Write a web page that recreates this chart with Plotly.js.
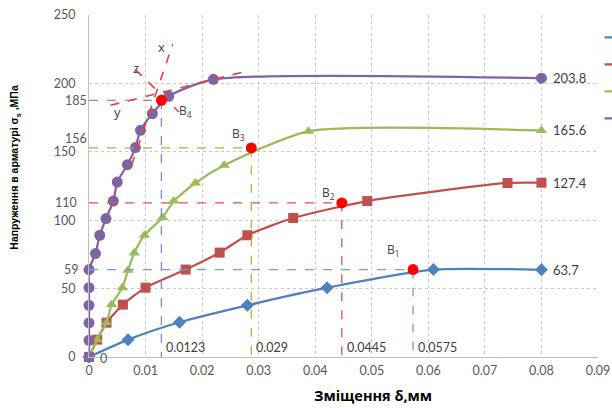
<!DOCTYPE html>
<html><head><meta charset="utf-8">
<script src="https://cdn.plot.ly/plotly-3.0.1.min.js"></script>
<style>html,body{margin:0;padding:0;background:#fff;overflow:hidden}#c{width:612px;height:408px}</style>
</head><body><div id="c"></div>
<script>
// ---- data ----
const seriesNames = ["Серія 1", "Серія 2", "Серія 3", "Серія 4"];
const blueX = [0, 0.0069, 0.016, 0.028, 0.0421, 0.0609, 0.08];
const blueY = [0, 12.7, 25.4, 37.8, 50.7, 63.9, 63.7];
const redX = [0, 0.00145, 0.0031, 0.006, 0.01, 0.0171, 0.0231, 0.028, 0.0361, 0.0492, 0.074, 0.08];
const redY = [0, 12.7, 25.1, 38.3, 50.7, 63.9, 76.3, 89, 101.6, 114, 127.2, 127.4];
const greenX = [0, 0.00145, 0.0031, 0.004, 0.0059, 0.0069, 0.008, 0.0098, 0.013, 0.015, 0.0188, 0.0239, 0.0388, 0.08];
const greenY = [0, 12.7, 25.1, 38.3, 50.7, 63.4, 76, 89, 101.9, 114, 127.2, 140.1, 165, 165.6];
const purpleX = [0, 0, 0, 0, 0, 0, 0.00115, 0.0019, 0.003, 0.0043, 0.005, 0.0068, 0.0082, 0.0091, 0.0112, 0.0141, 0.022, 0.08];
const purpleY = [0, 12.2, 24.9, 37.8, 50.7, 63.9, 75.6, 89, 101.2, 114, 127.9, 140.6, 153.1, 165.7, 177.9, 190.6, 203, 203.8];

// characteristic points B1..B4
const bNames = ["В<sub>1</sub>", "В<sub>2</sub>", "В<sub>3</sub>", "В<sub>4</sub>"];
const bX = [0.0573, 0.0447, 0.0287, 0.0128];
const bY = [63.9, 112.6, 152.8, 187.6];
const bXText = ["0.0575", "0.0445", "0.029", "0.0123"];
const bYText = ["59", "110", "156", "185"];
const bLabelX = [0.0538, 0.0424, 0.0265, 0.0171];
const bLabelY = [78, 120, 163, 180];

// tangent construction lines near B4
const tanXx = [0.0075, 0.0148], tanXy = [140, 228.6];
const tanZx = [0.0082, 0.0159], tanZy = [210.1, 179.1];
const tanYx = [0.0038, 0.028],  tanYy = [184, 209.1];
const tanLabels = ["x", "z", "y"];
const tanLabelX = [0.0128, 0.0083, 0.005];
const tanLabelY = [226.6, 211, 179.1];

// end value labels
const endVals = [63.7, 127.4, 165.6, 203.8];

const xTickVals = [0, 0.01, 0.02, 0.03, 0.04, 0.05, 0.06, 0.07, 0.08, 0.09];
const xTickText = ["0", "0.01", "0.02", "0.03", "0.04", "0.05", "0.06", "0.07", "0.08", "0.09"];
const yTickVals = [0, 50, 100, 150, 200, 250];
const yTickText = ["0", "50", "100", "150", "200", "250"];

// ---- styling ----
const colors = ["#4F81BD", "#C0504D", "#9BBB59", "#8064A2"];
const guideColors = ["#6E9FD8", "#D9534F", "#A9B83E", "#8585D0"];
const symbols = ["diamond", "square", "triangle-up", "circle"];
const sizes = [10, 10, 10, 11];
const xs = [blueX, redX, greenX, purpleX];
const ys = [blueY, redY, greenY, purpleY];

const traces = [];
for (let i = 0; i < 4; i++) {
  traces.push({
    x: xs[i], y: ys[i], name: seriesNames[i], type: "scatter", mode: "lines+markers",
    line: {color: colors[i], width: 2.25, shape: "spline", smoothing: 0.6},
    marker: {symbol: symbols[i], size: sizes[i], color: colors[i]},
    cliponaxis: false
  });
}
// dashed guide lines
for (let i = 0; i < 4; i++) {
  traces.push({
    x: [0, bX[i], bX[i]], y: [bY[i], bY[i], 0], type: "scatter", mode: "lines",
    line: {color: guideColors[i], width: 1.3, dash: "dash"}, showlegend: false, hoverinfo: "skip"
  });
}
// tangent lines
[[tanXx, tanXy], [tanZx, tanZy], [tanYx, tanYy]].forEach(p => {
  traces.push({x: p[0], y: p[1], type: "scatter", mode: "lines",
    line: {color: "#F03C3C", width: 1.6, dash: "dash"}, showlegend: false, hoverinfo: "skip", cliponaxis: false});
});
// B points
traces.push({x: bX, y: bY, type: "scatter", mode: "markers",
  marker: {color: "#FF0000", size: 11, symbol: "circle"}, showlegend: false, cliponaxis: false});

const tickFont = {family: "Lato, 'Liberation Sans', sans-serif", size: 12.5, color: "#595959"};
const ann = [];
const lblFont = {family: "'Open Sans', 'Noto Sans', sans-serif", size: 12, color: "#404040"};
for (let i = 0; i < 4; i++) {
  ann.push({x: bLabelX[i], y: bLabelY[i], xref: "x", yref: "y", text: bNames[i], showarrow: false, font: lblFont});
  ann.push({x: bX[i], y: 6.7, xref: "x", yref: "y", text: bXText[i], showarrow: false, xanchor: "left", xshift: 3,
    font: {family: tickFont.family, size: 12.5, color: "#404040"}});
  ann.push({x: 0.08, y: endVals[i], xref: "x", yref: "y", text: endVals[i].toFixed(1), showarrow: false, xanchor: "left", xshift: 10,
    font: {family: tickFont.family, size: 13, color: "#404040"}});
}
const yLabY = [63.9, 113, 160, 187.6];
const yLabShift = [-8, -10, 0, 0];
for (let i = 0; i < 4; i++) {
  ann.push({x: 0, y: yLabY[i], xref: "paper", yref: "y", text: bYText[i], showarrow: false, xanchor: "right", xshift: yLabShift[i], font: tickFont});
}
ann.push({x: 0, y: 0, xref: "x", yref: "y", text: "0", showarrow: false, xanchor: "left", xshift: 9, yshift: -1, font: tickFont});
for (let i = 0; i < 3; i++) {
  ann.push({x: tanLabelX[i], y: tanLabelY[i], xref: "x", yref: "y", text: tanLabels[i], showarrow: false, font: {family: lblFont.family, size: 13, color: "#404040"}});
}
// axis titles
ann.push({xref: "paper", yref: "paper", x: (15 - 88.5) / 509.5, y: (356.7 - 167) / 341.7,
  xanchor: "center", yanchor: "middle", text: "<b>Напруження в арматурі σ<sub>s</sub> ,МПа</b>",
  textangle: -90, showarrow: false, font: {family: "'Liberation Sans', Arial, sans-serif", size: 10.5, color: "#000"}});
ann.push({xref: "paper", yref: "paper", x: (373 - 88.5) / 509.5, y: -(395 - 356.7) / 341.7,
  xanchor: "center", yanchor: "middle", text: "<b>Зміщення δ,мм</b>",
  showarrow: false, font: {family: "'Open Sans', 'Noto Sans', sans-serif", size: 14.5, color: "#000"}});

const layout = {
  width: 612, height: 408,
  margin: {l: 88.5, r: 14, t: 15, b: 51.3, autoexpand: false},
  paper_bgcolor: "#fff", plot_bgcolor: "#fff",
  showlegend: true,
  legend: {x: 1.003, y: 0.989, xanchor: "left", yanchor: "top", bgcolor: "rgba(0,0,0,0)",
    font: {family: "Lato", size: 18.5, color: "#404040"}, tracegroupgap: 0},
  xaxis: {range: [0, 0.09], tickvals: xTickVals, ticktext: xTickText, tickfont: tickFont,
    showgrid: true, gridcolor: "#C8C8C8", griddash: "dot", gridwidth: 1,
    showline: true, linecolor: "#BFBFBF", linewidth: 1, zeroline: false, ticks: "", ticklabelstandoff: 2},
  yaxis: {range: [0, 250], tickvals: yTickVals, ticktext: yTickText, tickfont: tickFont,
    showgrid: true, gridcolor: "#C8C8C8", griddash: "dot", gridwidth: 1,
    showline: true, linecolor: "#BFBFBF", linewidth: 1, zeroline: false, ticks: "", ticklabelstandoff: 10},
  annotations: ann
};

Plotly.newPlot("c", traces, layout, {staticPlot: true});
</script></body></html>
